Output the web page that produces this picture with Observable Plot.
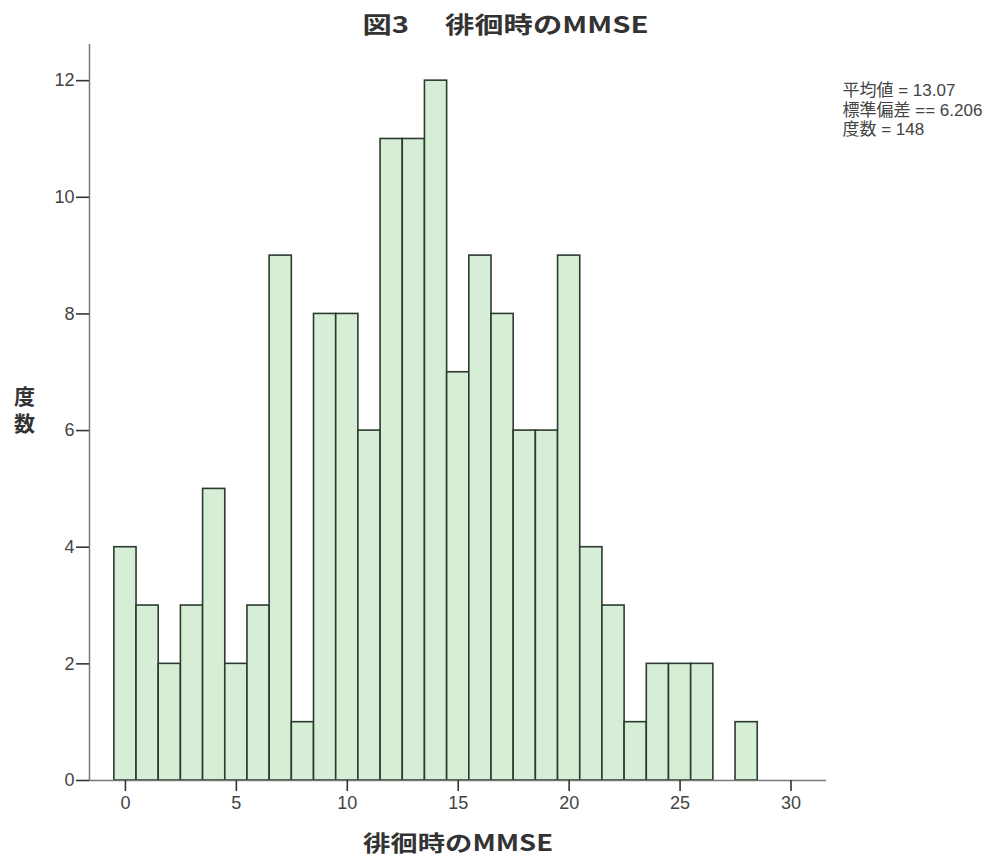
<!DOCTYPE html>
<html>
<head>
<meta charset="utf-8">
<script src="https://cdn.jsdelivr.net/npm/d3@7"></script>
<script src="https://cdn.jsdelivr.net/npm/@observablehq/plot@0.6"></script>
<style>
  html, body { margin: 0; padding: 0; background: #fff; }
</style>
</head>
<body>
<div id="chart"></div>
<script>
const scores = [0,1,2,3,4,5,6,7,8,9,10,11,12,13,14,15,16,17,18,19,20,21,22,23,24,25,26,27,28];
const counts = [4,3,2,3,5,2,3,9,1,8,8,6,11,11,12,7,9,8,6,6,9,4,3,1,2,2,2,0,1];
const xTicks = [0,5,10,15,20,25,30];
const yTicks = [0,2,4,6,8,10,12];
const title = "図3　 徘徊時のMMSE";
const xLabel = "徘徊時のMMSE";
const yLabel = "度\n数";
const statsText = "平均値 = 13.07\n標準偏差 == 6.206\n度数 = 148";

const xDomain = [-1.62, 31.6];
const yDomain = [0, 12.62];

const data = scores.map((s, i) => ({score: s, count: counts[i]})).filter(d => d.count > 0);
const tickFont = "'Liberation Sans Narrow', 'Liberation Sans', Arial, sans-serif";
const cjkFont = "'Noto Sans CJK JP', 'Liberation Sans', sans-serif";
const mixFont = "'Liberation Sans', 'Noto Sans CJK JP', sans-serif";

const chart = Plot.plot({
  width: 1004,
  height: 863,
  marginLeft: 89,
  marginRight: 178,
  marginTop: 44,
  marginBottom: 83,
  x: {domain: xDomain},
  y: {domain: yDomain},
  style: {fontFamily: tickFont, fontSize: "18px", color: "#444", background: "#fff"},
  marks: [
    Plot.rectY(data, {
      x1: d => d.score - 0.5, x2: d => d.score + 0.5, y: "count",
      fill: "#d6eed6", stroke: "#2c3a30", strokeWidth: 1.6
    }),
    Plot.ruleY([yDomain[0]], {stroke: "#777", strokeWidth: 1.5}),
    Plot.ruleX([xDomain[0]], {stroke: "#777", strokeWidth: 1.5}),
    Plot.axisX({ticks: xTicks, tickSize: 11, tickPadding: 5, label: null, stroke: "#333", strokeWidth: 1.6, fill: "#444"}),
    Plot.axisY({ticks: yTicks, tickSize: 13, tickPadding: 2, label: null, stroke: "#333", strokeWidth: 1.6, fill: "#444"}),
    Plot.text([title], {frameAnchor: "top", dx: 47.5, dy: -28, fontSize: 23, fontWeight: "bold", fill: "#333", fontFamily: cjkFont, className: "ttl"}),
    Plot.text([xLabel], {frameAnchor: "bottom", dx: 0, dy: 70, fontSize: 22, fontWeight: "bold", fill: "#333", fontFamily: cjkFont, className: "xlab"}),
    Plot.text([yLabel], {frameAnchor: "left", textAnchor: "middle", dx: -65, dy: -3.5, fontSize: 21, fontWeight: "bold", fill: "#333", lineHeight: 1.3, fontFamily: mixFont}),
    Plot.text([statsText], {frameAnchor: "top-right", dx: 16, dy: 38, textAnchor: "start", lineAnchor: "top", fontSize: 17, fill: "#444", lineHeight: 1.15, fontFamily: mixFont})
  ]
});
document.getElementById("chart").appendChild(chart);
// stretch wide bold labels to the reference's width
d3.select(chart).selectAll("g.ttl text").attr("textLength", 286).attr("lengthAdjust", "spacingAndGlyphs");
d3.select(chart).selectAll("g.xlab text").attr("textLength", 190).attr("lengthAdjust", "spacingAndGlyphs");
</script>
</body>
</html>
